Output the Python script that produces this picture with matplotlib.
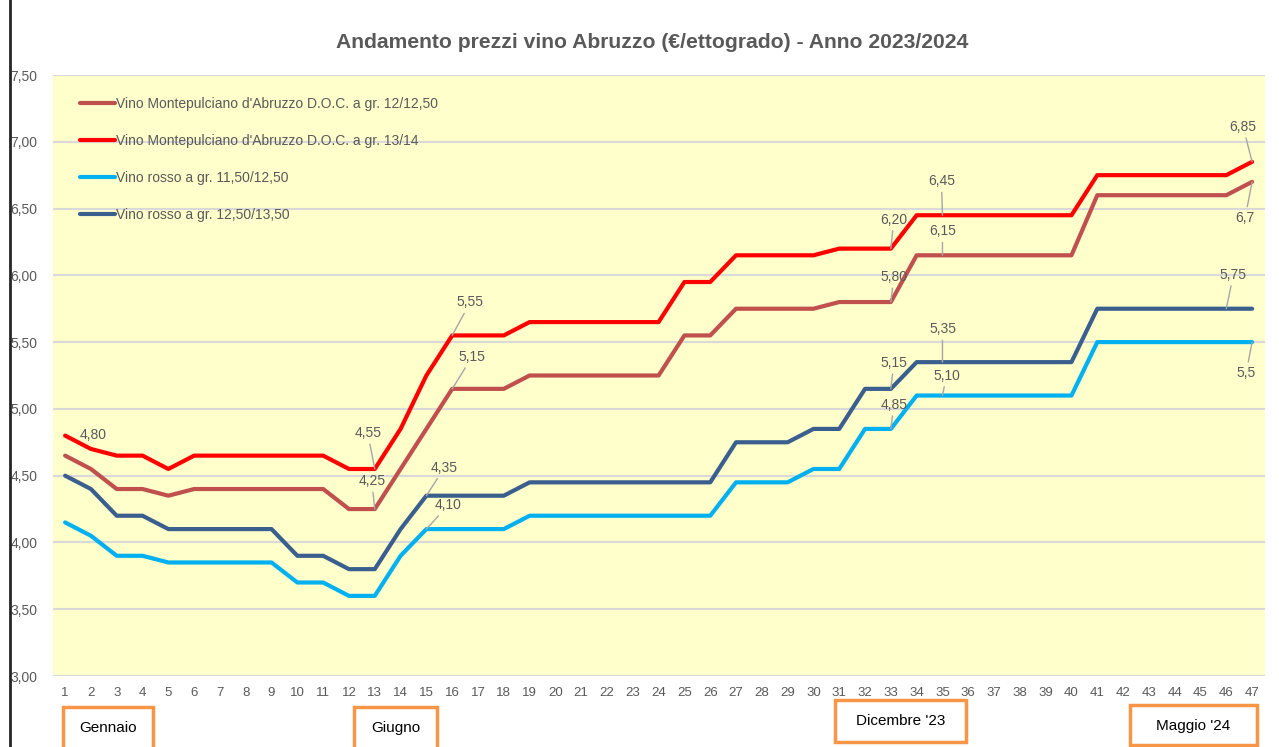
import matplotlib
matplotlib.use("Agg")
import matplotlib.pyplot as plt
from matplotlib.patches import Rectangle
from matplotlib.lines import Line2D

plt.rcParams['font.family'] = ['Liberation Sans', 'DejaVu Sans']

# settimane 1..47
settimane = list(range(1, 48))

mont_12 = [4.65, 4.55, 4.40, 4.40, 4.35, 4.40, 4.40, 4.40, 4.40, 4.40, 4.40, 4.25, 4.25,
           4.55, 4.85, 5.15, 5.15, 5.15, 5.25, 5.25, 5.25, 5.25, 5.25, 5.25, 5.55, 5.55,
           5.75, 5.75, 5.75, 5.75, 5.80, 5.80, 5.80, 6.15, 6.15, 6.15, 6.15, 6.15, 6.15,
           6.15, 6.60, 6.60, 6.60, 6.60, 6.60, 6.60, 6.70]
mont_13 = [4.80, 4.70, 4.65, 4.65, 4.55, 4.65, 4.65, 4.65, 4.65, 4.65, 4.65, 4.55, 4.55,
           4.85, 5.25, 5.55, 5.55, 5.55, 5.65, 5.65, 5.65, 5.65, 5.65, 5.65, 5.95, 5.95,
           6.15, 6.15, 6.15, 6.15, 6.20, 6.20, 6.20, 6.45, 6.45, 6.45, 6.45, 6.45, 6.45,
           6.45, 6.75, 6.75, 6.75, 6.75, 6.75, 6.75, 6.85]
rosso_11 = [4.15, 4.05, 3.90, 3.90, 3.85, 3.85, 3.85, 3.85, 3.85, 3.70, 3.70, 3.60, 3.60,
            3.90, 4.10, 4.10, 4.10, 4.10, 4.20, 4.20, 4.20, 4.20, 4.20, 4.20, 4.20, 4.20,
            4.45, 4.45, 4.45, 4.55, 4.55, 4.85, 4.85, 5.10, 5.10, 5.10, 5.10, 5.10, 5.10,
            5.10, 5.50, 5.50, 5.50, 5.50, 5.50, 5.50, 5.50]
rosso_12 = [4.50, 4.40, 4.20, 4.20, 4.10, 4.10, 4.10, 4.10, 4.10, 3.90, 3.90, 3.80, 3.80,
            4.10, 4.35, 4.35, 4.35, 4.35, 4.45, 4.45, 4.45, 4.45, 4.45, 4.45, 4.45, 4.45,
            4.75, 4.75, 4.75, 4.85, 4.85, 5.15, 5.15, 5.35, 5.35, 5.35, 5.35, 5.35, 5.35,
            5.35, 5.75, 5.75, 5.75, 5.75, 5.75, 5.75, 5.75]

serie = [
    ("Vino Montepulciano d'Abruzzo D.O.C. a gr. 12/12,50", mont_12, '#C0504D'),
    ("Vino Montepulciano d'Abruzzo D.O.C. a gr. 13/14", mont_13, '#FF0000'),
    ("Vino rosso a gr. 11,50/12,50", rosso_11, '#00B0F0'),
    ("Vino rosso a gr. 12,50/13,50", rosso_12, '#3A5F8E'),
]

# etichette: (serie, settimana, testo)
etichette = [
    (1, 1, "4,80"), (1, 13, "4,55"), (0, 13, "4,25"),
    (1, 16, "5,55"), (0, 16, "5,15"), (3, 15, "4,35"), (2, 15, "4,10"),
    (1, 33, "6,20"), (1, 35, "6,45"), (0, 33, "5,80"), (0, 35, "6,15"),
    (3, 33, "5,15"), (3, 35, "5,35"), (2, 33, "4,85"), (2, 35, "5,10"),
    (1, 47, "6,85"), (0, 47, "6,7"), (3, 46, "5,75"), (2, 47, "5,5"),
]
# spostamento etichette in pixel
spostamenti = [
    (28, 1), (-7, 36), (-3, 28),
    (18, 33), (20, 32), (18, 28), (22, 24),
    (3, 29), (-1, 34), (3, 25), (0, 24),
    (3, 26), (0, 33), (3, 24), (4, 20),
    (-9, 35), (-7, -36), (7, 34), (-6, -31),
]

periodi = ["Gennaio", "Giugno", "Dicembre '23", "Maggio '24"]
box_periodi = [(63, 707, 90, 45), (354, 707, 83, 45), (835, 700, 131, 42), (1130, 705, 127, 40)]

W, H = 1279, 747
fig = plt.figure(figsize=(W / 100, H / 100), dpi=100)
fig.patch.set_facecolor('white')
ax = fig.add_axes([53 / W, 1 - 676 / H, (1265 - 53) / W, (676 - 75) / H])
ax.set_facecolor('#FFFFCC')

grigio = '#595959'
for nome, valori, colore in serie:
    ax.plot(settimane, valori, color=colore, lw=3.0, label=nome, solid_capstyle='round')

for (s, x, testo), (dx, dy) in zip(etichette, spostamenti):
    y = serie[s][1][x - 1]
    props = None if s == 1 and x == 1 else dict(arrowstyle='-', color='#A6A6A6', lw=1.0,
                                                shrinkA=1, shrinkB=0)
    ax.annotate(testo, xy=(x, y), xytext=(dx, dy), textcoords='offset pixels',
                ha='center', va='center', fontsize=10, color=grigio, arrowprops=props)

ax.set_xlim(0.53, 47.5)
ax.set_ylim(3.0, 7.5)
ax.set_xticks(settimane)
ax.set_yticks([3.0 + 0.5 * i for i in range(10)])
ax.set_yticklabels([f"{3.0 + 0.5 * i:.2f}".replace('.', ',') for i in range(10)])
ax.tick_params(axis='both', length=0, colors=grigio, labelsize=9.5)
ax.tick_params(axis='y', labelsize=10, pad=11)
ax.tick_params(axis='x', pad=8)
ax.grid(axis='y', color='#D9D9D9', lw=1.5)
ax.set_axisbelow(True)
for sp in ax.spines.values():
    sp.set_visible(False)

leg = ax.legend(loc='upper left', bbox_to_anchor=(0.012, 0.985), frameon=False,
                fontsize=10, handlelength=2.5, handletextpad=0.1, labelspacing=1.66,
                labelcolor=grigio)

fig.text(652 / W, 1 - 42 / H, "Andamento prezzi vino Abruzzo (€/ettogrado) - Anno 2023/2024",
         ha='center', va='center', fontsize=15.2, fontweight='bold', color=grigio)

for testo, (x0, y0, w, h) in zip(periodi, box_periodi):
    r = Rectangle((x0 / W, 1 - (y0 + h) / H), w / W, h / H, transform=fig.transFigure,
                  facecolor='white', edgecolor='#F79646', lw=2.5, clip_on=False)
    fig.add_artist(r)
    fig.text((x0 + w / 2) / W, 1 - (y0 + 21) / H, testo, ha='center', va='center',
             fontsize=11, color='black')

fig.add_artist(Line2D([10 / W, 10 / W], [0, 1], transform=fig.transFigure, color='#262626', lw=2))

fig.savefig("out.png", dpi=100)
